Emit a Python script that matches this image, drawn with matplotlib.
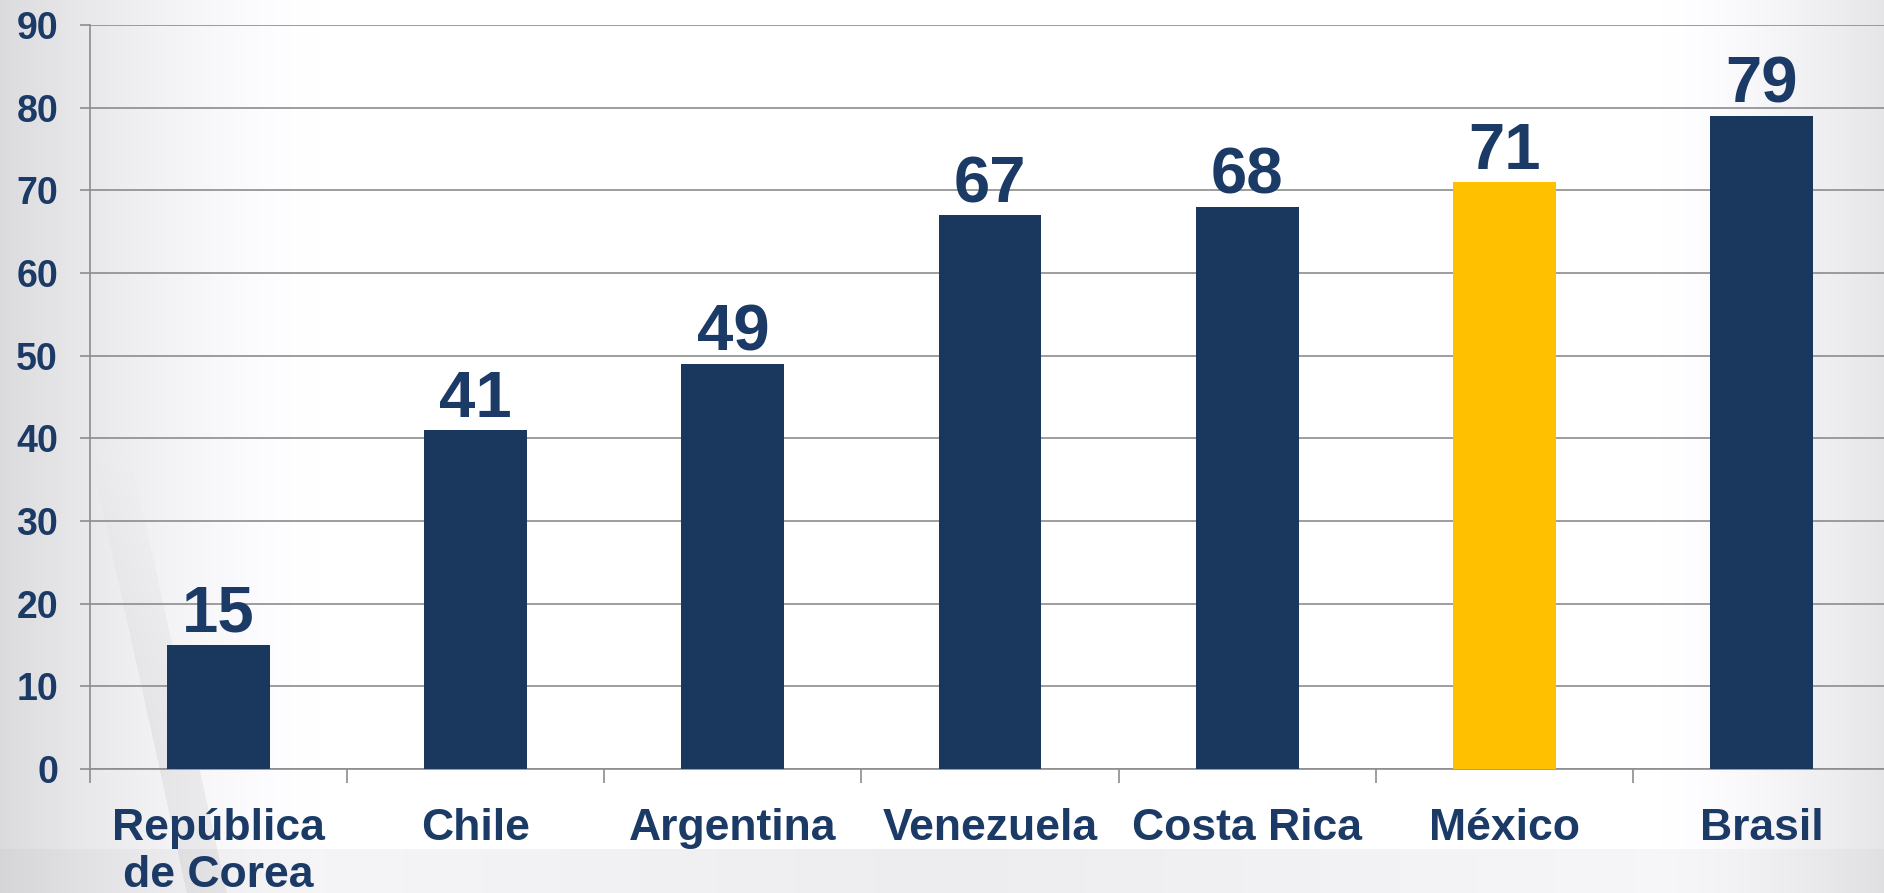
import numpy as np
import matplotlib.pyplot as plt
from matplotlib.ticker import FixedLocator

paises = ["República\nde Corea", "Chile", "Argentina", "Venezuela", "Costa Rica", "México", "Brasil"]
valores = [15, 41, 49, 67, 68, 71, 79]
destacado = "México"

azul = "#1a375e"
amarillo = "#ffc000"
texto = "#1b3a66"

plt.rcParams['font.family'] = ['Liberation Sans', 'DejaVu Sans']

fig = plt.figure(figsize=(18.84, 8.93), dpi=100)

# fondo gris suave (aprox. plantilla de la diapositiva)
bg = fig.add_axes([0, 0, 1, 1], zorder=-10)
h, w = 893, 1884
yy, xx = np.mgrid[0:h, 0:w]
img = np.ones((h, w))
img -= 0.14 * np.clip(1 - xx / 320, 0, 1) ** 1.5
img -= 0.10 * np.clip((xx - 1660) / 224, 0, 1) ** 1.5
img -= 0.07 * (yy > 848) * np.clip(1 - np.abs(xx - 940) / 1400, 0.3, 1)
# franja diagonal clara a la izquierda
d = xx - (100 + (yy - 500) * 0.22)
img -= 0.05 * ((d > 0) & (d < 40) & (yy > 450)) * np.clip((yy - 450) / 300, 0, 1)
img = np.clip(img, 0, 1)
bg.imshow(np.dstack([img, img, np.clip(img * 1.01, 0, 1)]), aspect='auto', extent=[0, 1, 0, 1])
bg.set_axis_off()

ax = fig.add_axes([90 / 1884, 124 / 893, 1800 / 1884, 744 / 893])
ax.patch.set_alpha(0)

x = np.arange(len(paises))
colores = [amarillo if p == destacado else azul for p in paises]
ax.bar(x, valores, width=0.4, color=colores, zorder=3)

for xi, v in zip(x, valores):
    ax.annotate(str(v), (xi, v), xytext=(0, 0), textcoords='offset points',
                ha='center', va='bottom', fontsize=47, fontweight='bold', color=texto)

ax.set_xlim(-0.5, len(paises) - 0.5)
ax.set_ylim(0, 90)
ax.set_yticks(range(0, 91, 10))
ax.yaxis.grid(True, color='#8c8c8c', linewidth=1.2, zorder=0)
ax.set_axisbelow(True)

ax.set_xticks(x)
ax.set_xticklabels(paises, fontsize=32, fontweight='bold', color=texto, linespacing=1.18)
ax.tick_params(axis='x', which='major', length=0, pad=28)
ax.xaxis.set_minor_locator(FixedLocator(np.arange(-0.5, len(paises), 1)))
ax.tick_params(axis='x', which='minor', length=10, width=1.2, color='#8c8c8c', direction='out')
ax.tick_params(axis='y', length=7, width=1.2, color='#8c8c8c', pad=16, labelsize=27, labelcolor=texto)
for lbl in ax.get_yticklabels():
    lbl.set_fontweight('bold')

for s in ['top', 'right']:
    ax.spines[s].set_visible(False)
ax.spines['left'].set_color('#8c8c8c')
ax.spines['left'].set_linewidth(1.2)
ax.spines['bottom'].set_color('#8c8c8c')
ax.spines['bottom'].set_linewidth(1.2)

fig.savefig("out.png", dpi=100)
